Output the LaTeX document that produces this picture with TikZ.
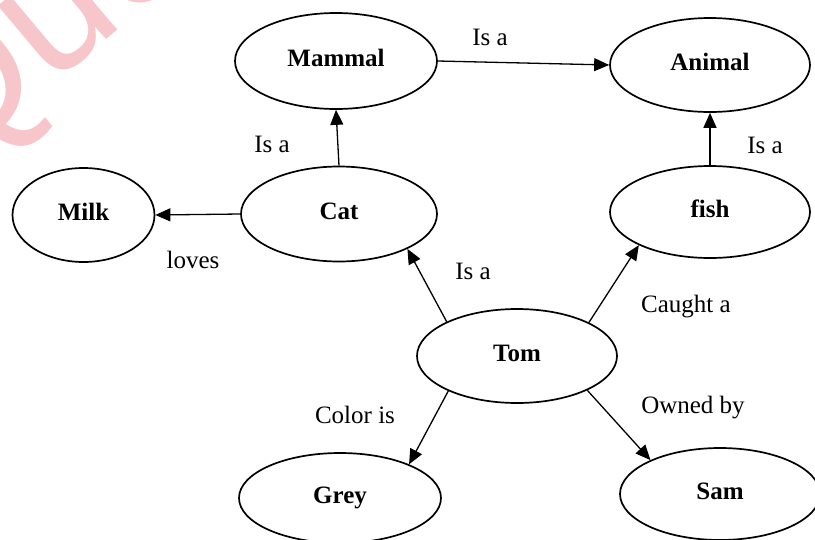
\documentclass[tikz,border=0pt]{standalone}
\usepackage{fontspec}
\setmainfont{Liberation Serif}
\newfontfamily\markfont{Liberation Sans}
\usetikzlibrary{shapes.geometric,arrows.meta}
\definecolor{markpink}{RGB}{246,198,202}

\tikzset{
  concept/.style={draw, ellipse, line width=1.7pt, inner sep=0pt,
    font=\fontsize{25}{25}\selectfont\bfseries,
    text height=17pt, text depth=7pt},
  relation/.style={line width=1.3pt, -{Triangle[length=15pt,width=13pt]}},
  rellabel/.style={anchor=base, font=\fontsize{25}{25}\selectfont},
}

\begin{document}
\begin{tikzpicture}[x=1pt, y=-1pt]
  \useasboundingbox (0,0) rectangle (815,539);

  % faint watermark lettering
  \node[anchor=base west, rotate=40, text=markpink, inner sep=0pt,
        font=\markfont\fontsize{180}{180}\selectfont] (mark) at (-57,177) {Quo};

  % concepts
  \node[concept, minimum width=202pt, minimum height=96pt] (mammal) at (336,61) {Mammal};
  \node[concept, minimum width=200pt, minimum height=94pt] (animal) at (710,65) {Animal};
  \node[concept, minimum width=142pt, minimum height=94pt] (milk)   at (83.5,215) {Milk};
  \node[concept, minimum width=196pt, minimum height=95pt] (cat)    at (339,214) {Cat};
  \node[concept, minimum width=200pt, minimum height=92pt] (fish)   at (710,212) {fish};
  \node[concept, minimum width=200pt, minimum height=94pt] (tom)    at (517,356) {Tom};
  \node[concept, minimum width=202pt, minimum height=90pt] (grey)   at (340,498) {Grey};
  \node[concept, minimum width=200pt, minimum height=92pt] (sam)    at (720,494) {Sam};

  % relations
  \draw[relation] (mammal.east) -- (animal.west);
  \draw[relation] (cat.north) -- (mammal.south);
  \draw[relation] (fish.north) -- (animal.south);
  \draw[relation] (cat.west) -- (milk.east);
  \draw[relation] (tom.154) -- (cat.333);
  \draw[relation] (tom.25) -- (fish.205);
  \draw[relation] (tom.207) -- (grey.26);
  \draw[relation] (tom.334) -- (sam.154);

  % relation labels
  \node[rellabel] (l1) at (490,45)  {Is a};
  \node[rellabel] (l2) at (272,152) {Is a};
  \node[rellabel] (l3) at (765,153) {Is a};
  \node[rellabel] (l4) at (193,268) {loves};
  \node[rellabel] (l5) at (473,279) {Is a};
  \node[rellabel] (l6) at (686,312) {Caught a};
  \node[rellabel] (l7) at (355,423) {Color is};
  \node[rellabel] (l8) at (693,413) {Owned by};
\end{tikzpicture}
\end{document}
